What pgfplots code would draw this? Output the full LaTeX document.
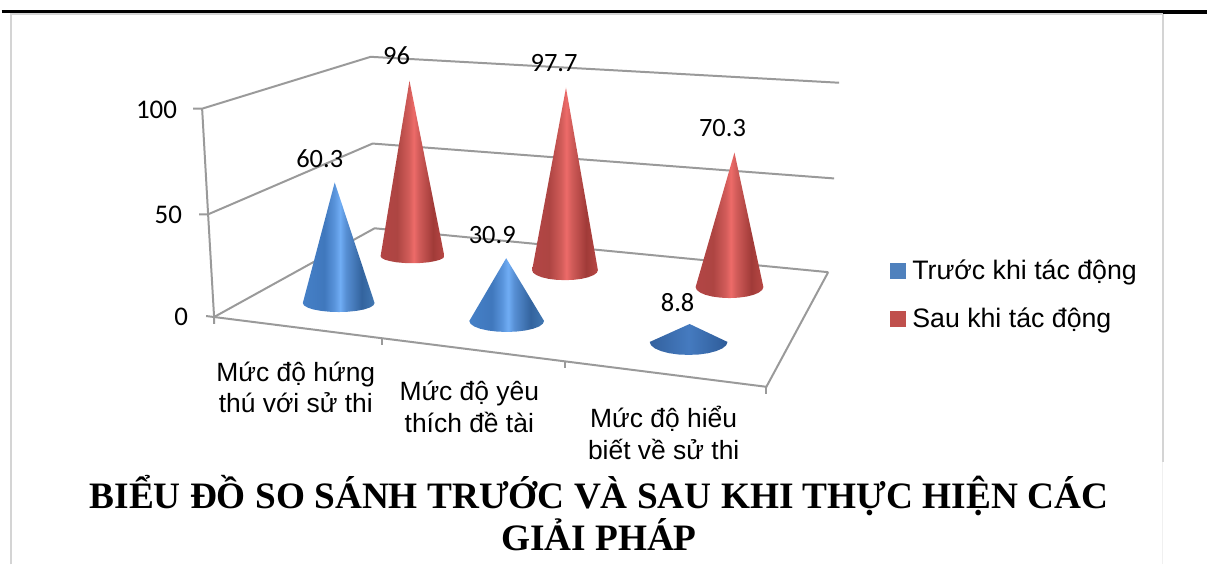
\documentclass[border=0pt]{standalone}
\usepackage{fontspec}
\setmainfont{Liberation Sans}
\newfontfamily\calibri{Carlito}
\newfontfamily\timesf{Liberation Serif}
\usepackage{pgfplots}
\pgfplotsset{compat=1.18}
\definecolor{gridg}{HTML}{9A9A9A}
\definecolor{bdr}{HTML}{D4D4D4}
\definecolor{legB}{HTML}{4F81BD}
\definecolor{legR}{HTML}{C0504D}
\pgfdeclarehorizontalshading{bluecone}{100bp}{
 rgb(0bp)=(0.27,0.50,0.78); rgb(25bp)=(0.27,0.50,0.78); rgb(40bp)=(0.25,0.47,0.74); rgb(47bp)=(0.35,0.58,0.86); rgb(51bp)=(0.44,0.68,0.96); rgb(55bp)=(0.34,0.56,0.83); rgb(66bp)=(0.20,0.39,0.62); rgb(75bp)=(0.26,0.47,0.70); rgb(100bp)=(0.26,0.47,0.70)}
\pgfdeclarehorizontalshading{bluelow}{100bp}{
 rgb(0bp)=(0.20,0.38,0.62); rgb(25bp)=(0.20,0.38,0.62); rgb(50bp)=(0.27,0.48,0.75); rgb(75bp)=(0.18,0.36,0.60); rgb(100bp)=(0.18,0.36,0.60)}
\pgfdeclarehorizontalshading{redcone}{100bp}{
 rgb(0bp)=(0.70,0.27,0.27); rgb(25bp)=(0.70,0.27,0.27); rgb(38bp)=(0.68,0.27,0.26); rgb(47bp)=(0.82,0.36,0.35); rgb(51bp)=(0.93,0.42,0.41); rgb(55bp)=(0.82,0.36,0.35); rgb(66bp)=(0.63,0.23,0.22); rgb(75bp)=(0.72,0.28,0.27); rgb(100bp)=(0.72,0.28,0.27)}
\begin{document}
\begin{tikzpicture}
\begin{axis}[
  at={(0,0)}, anchor=south west,
  scale only axis, width=1209pt, height=566pt,
  xmin=0, xmax=1209, ymin=0, ymax=566, y dir=reverse,
  axis lines=none, clip=false,
  legend style={draw=none, fill=none, at={(axis cs:891,259)}, anchor=north west,
    font=\fontsize{26.8}{30}\selectfont, row sep=22.5pt, inner sep=0pt, outer sep=0pt,
    cells={anchor=west}},
  legend image code/.code={\fill[#1] (0pt,-7.5pt) rectangle (15pt,7.5pt); \path (20pt,0pt);},
]
\path (axis cs:0,0) rectangle (axis cs:1209,566);
% frame
\addplot[forget plot, bdr, line width=2pt] coordinates {(9,566)(9,14.5)(1164.5,14.5)(1164.5,463)};
\addplot[forget plot, color=black!6, line width=1.5pt] coordinates {(1164.5,463)(1164.5,566)};
\addplot[forget plot, black, line width=3.5pt] coordinates {(0,11.7)(1165,11.7)};
\addplot[forget plot, black, line width=4pt] coordinates {(1165,12)(1209,12)};
% walls and floor
\addplot[forget plot, gridg, line width=2pt] coordinates {(192,109)(201,109)(370,57)(840,83)};
\addplot[forget plot, gridg, line width=2pt] coordinates {(198,215)(207,215)(372,144)(835,179)};
\addplot[forget plot, gridg, line width=2pt] coordinates {(205,317)(213,318)(374,229)(829,273)};
\addplot[forget plot, gridg, line width=2pt] coordinates {(201,109)(207,215)(213,318)(213,325)};
\addplot[forget plot, gridg, line width=2pt] coordinates {(213,318)(767,388)(829,273)};
\addplot[forget plot, gridg, line width=2pt] coordinates {(767,388)(767,395)};
\addplot[forget plot, gridg, line width=2pt] coordinates {(381,339)(381,346)};
\addplot[forget plot, gridg, line width=2pt] coordinates {(565,362)(565,369)};
% red cones
\addplot[forget plot, draw=none, shading=redcone] coordinates {(409,81)(444,257)(442.9,258.8)(439.7,260.5)(434.6,261.9)(428,263.1)(420.3,263.8)(412,264)(403.7,263.8)(396,263.1)(389.4,261.9)(384.3,260.5)(381.1,258.8)(380,257)} -- cycle;
\addplot[forget plot, draw=none, shading=redcone] coordinates {(566,88)(598,271)(596.9,273.6)(593.6,276)(588.3,278.1)(581.5,279.7)(573.5,280.7)(565,281)(556.5,280.7)(548.5,279.7)(541.7,278.1)(536.4,276)(533.1,273.6)(532,271)} -- cycle;
\addplot[forget plot, draw=none, shading=redcone] coordinates {(735,153)(764,288)(762.8,290.8)(759.4,293.5)(754,295.8)(747,297.5)(738.8,298.6)(730,299)(721.2,298.6)(713,297.5)(706,295.8)(700.6,293.5)(697.2,290.8)(696,288)} -- cycle;
% blue cones
\addplot[forget plot, draw=none, shading=bluecone] coordinates {(334,183)(374,304)(372.8,306.3)(369.2,308.5)(363.5,310.4)(356,311.8)(347.3,312.7)(338,313)(328.7,312.7)(320,311.8)(312.5,310.4)(306.8,308.5)(303.2,306.3)(302,304)} -- cycle;
\addplot[forget plot, draw=none, shading=bluecone] coordinates {(506,259)(544,322)(542.7,324.8)(539,327.5)(533,329.8)(525.3,331.5)(516.2,332.6)(506.5,333)(496.8,332.6)(487.7,331.5)(480,329.8)(474,327.5)(470.3,324.8)(469,322)} -- cycle;
\addplot[forget plot, draw=none, shading=bluelow] coordinates {(690,325)(728,343)(726.7,346.4)(722.8,349.5)(716.6,352.2)(708.5,354.3)(699.1,355.6)(689,356)(678.9,355.6)(669.5,354.3)(661.4,352.2)(655.2,349.5)(651.3,346.4)(650,343)} -- cycle;
% data labels
\addplot[forget plot, draw=none, mark=none, point meta=explicit symbolic,
  nodes near coords,
  every node near coord/.append style={anchor=center, inner sep=0pt, text=black,
    font=\calibri\fontsize{26.5}{30}\selectfont}]
  coordinates {(319,159)[60.3] (396,56)[96] (492,236)[30.9] (554,63)[97.7] (678,304)[8.8] (723,128)[70.3]};
% legend
\addlegendimage{legB}
\addlegendentry{Trước khi tác động}
\addlegendimage{legR}
\addlegendentry{Sau khi tác động}
% y axis numbers
\node[anchor=east, inner sep=0pt, font=\calibri\fontsize{27}{30}\selectfont] at (axis cs:176,110) {100};
\node[anchor=east, inner sep=0pt, font=\calibri\fontsize{27}{30}\selectfont] at (axis cs:181,216) {50};
\node[anchor=east, inner sep=0pt, font=\calibri\fontsize{27}{30}\selectfont] at (axis cs:187,318) {0};
% category labels
\tikzset{cat/.style={anchor=base, inner sep=0pt, font=\fontsize{26.5}{30}\selectfont}}
\node[cat] at (axis cs:295,382.5) {Mức độ hứng};
\node[cat] at (axis cs:295,413.5) {thú với sử thi};
\node[cat] at (axis cs:469,401.5) {Mức độ yêu};
\node[cat] at (axis cs:469,433.5) {thích đề tài};
\node[cat] at (axis cs:664,428.5) {Mức độ hiểu};
\node[cat] at (axis cs:664,460.5) {biết về sử thi};
% title
\tikzset{ttl/.style={anchor=base, inner sep=0pt, font=\timesf\bfseries\fontsize{37.4}{44}\selectfont}}
\node[ttl] at (axis cs:599,510) {BIỂU ĐỒ SO SÁNH TRƯỚC VÀ SAU KHI THỰC HIỆN CÁC};
\node[ttl] at (axis cs:599,552) {GIẢI PHÁP};
\end{axis}
\end{tikzpicture}
\end{document}
